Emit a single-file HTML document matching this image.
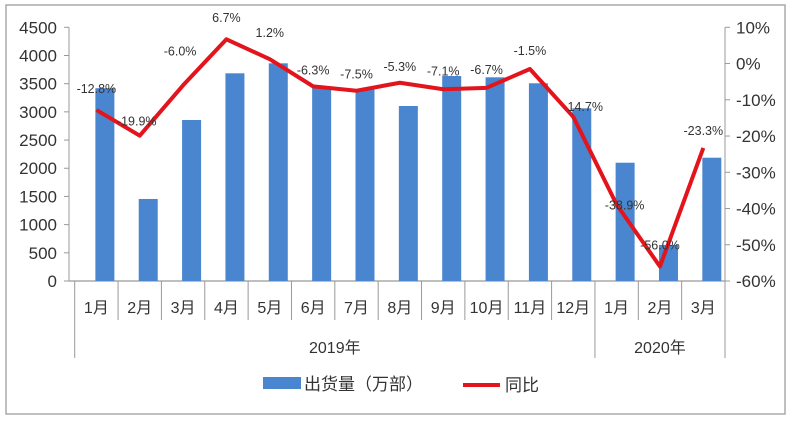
<!DOCTYPE html>
<html><head><meta charset="utf-8"><style>
body{margin:0;background:#fff;}
svg text{font-family:"Liberation Sans","Noto Sans CJK SC",sans-serif;}
</style></head><body>
<svg width="800" height="421" xmlns="http://www.w3.org/2000/svg">
<rect x="6" y="5" width="779" height="409" fill="#fff" stroke="#aaa" stroke-width="1.5"/>
<g id="g"></g>
</svg>
<script>
const categories=["1月","2月","3月","4月","5月","6月","7月","8月","9月","10月","11月","12月","1月","2月","3月"];
const shipments=[3420,1455,2856,3684,3861,3440,3400,3104,3636,3613,3507,3063,2098,639,2187];
const yoy=[-12.8,-19.9,-6.0,6.7,1.2,-6.3,-7.5,-5.3,-7.1,-6.7,-1.5,-14.7,-38.9,-56.0,-23.3];
const yoyLabels=["-12.8%","-19.9%","-6.0%","6.7%","1.2%","-6.3%","-7.5%","-5.3%","-7.1%","-6.7%","-1.5%","14.7%","-38.9%","-56.0%","-23.3%"];
const leftTicks=[0,500,1000,1500,2000,2500,3000,3500,4000,4500];
const rightTicks=[10,0,-10,-20,-30,-40,-50,-60];
const years=["2019年","2020年"];
const yearCounts=[12,3];

const NS="http://www.w3.org/2000/svg";
const g=document.getElementById('g');
const X0=74.7,X1=725,Y0=281,Y1=27.3;
const cw=(X1-X0)/categories.length;
const xc=i=>X0+cw*(i+0.5);
const yl=v=>Y0-(v/4500)*(Y0-Y1);
const yr=v=>Y0-((v+60)/70)*(Y0-Y1);
function el(t,a,txt){const e=document.createElementNS(NS,t);for(const k in a)e.setAttribute(k,a[k]);if(txt!==undefined)e.textContent=txt;g.appendChild(e);return e;}

// axes
let e=el('line',{x1:69,y1:Y0,x2:X1,y2:Y0,stroke:'#999','stroke-width':1.2});


e=el('line',{x1:69,y1:Y1,x2:69,y2:Y0,stroke:'#999','stroke-width':1});


e=el('line',{x1:X1,y1:Y1,x2:X1,y2:358,stroke:'#999','stroke-width':1});


leftTicks.forEach(v=>{
  el('line',{x1:64,y1:yl(v),x2:69,y2:yl(v),stroke:'#999'});
  const t=el('text',{x:57,y:yl(v)+6,'text-anchor':'end','font-size':17,fill:'#333'},String(v));
  
  
});
rightTicks.forEach(v=>{
  el('line',{x1:X1,y1:yr(v),x2:X1+5,y2:yr(v),stroke:'#999'});
  const t=el('text',{x:736,y:yr(v)+6,'font-size':17,fill:'#333'},v+'%');
  
  
});
// category dividers
for(let i=0;i<=categories.length;i++){
  const x=X0+cw*i;
  const bottom=(i===0||i===12||i===15)?358:320;
  el('line',{x1:x,y1:Y0,x2:x,y2:bottom,stroke:'#999'});
}
// bars
shipments.forEach((v,i)=>{
  const r=el('rect',{x:xc(i)-1,y:yl(v),width:19,height:Y0-yl(v),fill:'#4a86cf'});
  
  
});
// category labels
categories.forEach((c,i)=>{
  const t=el('text',{x:xc(i),y:313,'text-anchor':'middle','font-size':16,fill:'#333'},c);
  
  
});
// year labels
let start=0;
years.forEach((y,k)=>{
  const mid=X0+cw*(start+yearCounts[k]/2);
  const t=el('text',{x:mid,y:353,'text-anchor':'middle','font-size':16,fill:'#333'},y);
  
  
  start+=yearCounts[k];
});
// line
const pts=yoy.map((v,i)=>xc(i)+','+yr(v)).join(' ');
const pl=el('polyline',{points:pts,fill:'none',stroke:'#e3141b','stroke-width':4,'stroke-linejoin':'round'});


// data labels
const offs=[[-0,-8],[-3,-10],[-3,-10],[0,-12],[0,-12],[0,-12],[0,-12],[0,-12],[0,-14],[0,-14],[0,-14],[12,-12],[8,-12],[0,-8],[0,-12]];
yoy.forEach((v,i)=>{
  let ly;
  if(i===0) ly=yl(3420)+5; else if(i===12) ly=yr(v)+5; else if(i===13) ly=yr(v)-17; else ly=yr(v)+offs[i][1];
  if(i===2) ly=yr(v)-30;
  if(i===3) ly=22;
  if(i===4) ly=yr(v)-22;
  if(i===11) ly=yr(v)-6;
  if(i===14) ly=yr(v)-13;
  const t=el('text',{x:xc(i)+(offs[i][0]),y:ly,'text-anchor':'middle','font-size':12.5,fill:'#333'},yoyLabels[i]);
  
  
});
// legend
const lr=el('rect',{x:263,y:377,width:38,height:12,fill:'#4a86cf'});


let lt=el('text',{x:304,y:390,'font-size':17,fill:'#333'},'出货量（万部）');


const ll=el('line',{x1:463,y1:385,x2:500,y2:385,stroke:'#e3141b','stroke-width':4});


lt=el('text',{x:505,y:391,'font-size':17,fill:'#333'},'同比');


</script>
</body></html>
